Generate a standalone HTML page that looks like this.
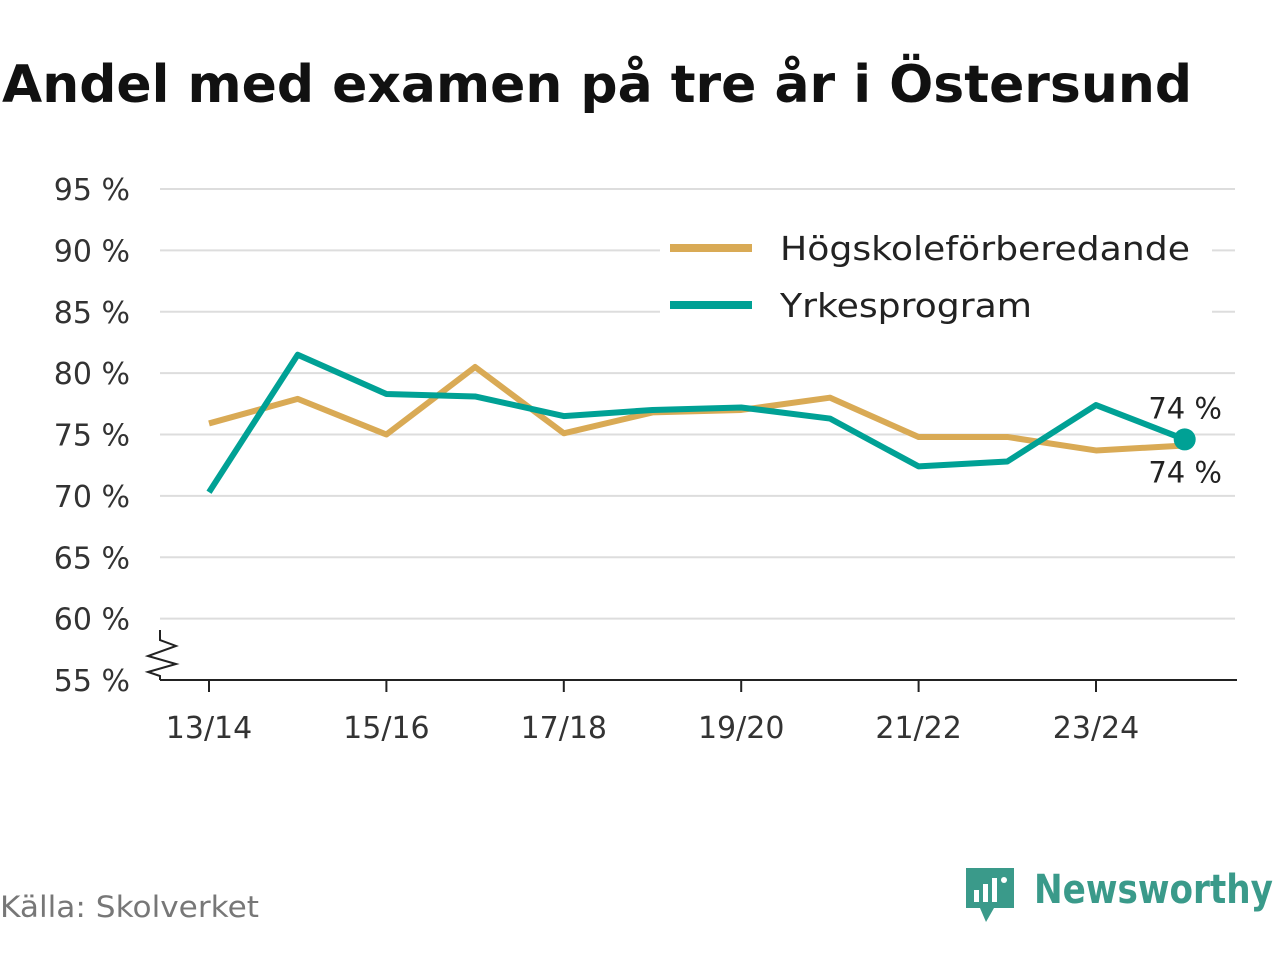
<!DOCTYPE html>
<html><head><meta charset="utf-8"><style>
body{margin:0;background:#fff;width:1280px;height:960px;overflow:hidden;font-family:"DejaVu Sans","Liberation Sans",sans-serif}
</style></head><body>
<svg id="c" width="1280" height="960" xmlns="http://www.w3.org/2000/svg">
<text x="2" y="102" font-size="52" font-weight="bold" fill="#111" textLength="1190" lengthAdjust="spacingAndGlyphs">Andel med examen på tre år i Östersund</text>
<g id="grid"></g><g id="lines"></g>
<text x="0" y="917" font-size="29" fill="#777" textLength="259" lengthAdjust="spacingAndGlyphs">Källa: Skolverket</text>
<g>
<path d="M966 868h48v40h-20l-8 14-6-14h-14z" fill="#3a9a8a"/>
<rect x="974" y="890" width="5" height="12" fill="#fff"/><rect x="983" y="884" width="5" height="18" fill="#fff"/><rect x="992" y="878" width="5" height="24" fill="#fff"/><circle cx="1004" cy="880" r="3" fill="#fff"/>
<text x="1034" y="903" font-size="40" font-weight="bold" fill="#3a9a8a" textLength="239" lengthAdjust="spacingAndGlyphs">Newsworthy</text></g>
</svg>
<script>
const categories=["13/14","14/15","15/16","16/17","17/18","18/19","19/20","20/21","21/22","22/23","23/24","24/25"];
const hogskole=[75.9,77.9,75.0,80.5,75.1,76.8,77.0,78.0,74.8,74.8,73.7,74.1];
const yrkes=[70.3,81.5,78.3,78.1,76.5,77.0,77.2,76.3,72.4,72.8,77.4,74.6];
const yTicks=[55,60,65,70,75,80,85,90,95];
const NS="http://www.w3.org/2000/svg";
const y=v=>680-(v-55)*12.275;
const x=i=>209+i*88.7;
function mk(t,a,p){const e=document.createElementNS(NS,t);for(const k in a)e.setAttribute(k,a[k]);p.appendChild(e);return e;}
const g=document.getElementById('grid'),L=document.getElementById('lines');
yTicks.forEach(v=>{
 if(v>55){const l=mk('line',{x1:160,x2:1235,y1:y(v),y2:y(v),stroke:'#ddd','stroke-width':2},g);
 
 }
 const t=mk('text',{x:130,y:y(v)+11,'font-size':30,'text-anchor':'end',fill:'#333'},g);t.textContent=v+' %';
 
 
});
const ax=mk('line',{x1:160,x2:1237,y1:680,y2:680,stroke:'#222','stroke-width':2},g);


const br=mk('path',{d:'M160 630 L160 640 L176 646 L148 656 L176 664 L148 672 L160 676 L160 680',fill:'none',stroke:'#222','stroke-width':2},g);


categories.forEach((c,i)=>{
 if(i%2==0){mk('line',{x1:x(i),x2:x(i),y1:680,y2:692,stroke:'#222','stroke-width':2},g);
 const t=mk('text',{x:x(i),y:738,'font-size':30,'text-anchor':'middle',fill:'#333'},g);t.textContent=c;
 
 }
});
const lg=mk('rect',{x:660,y:222,width:552,height:110,fill:'#fff'},g);


[['Högskoleförberedande','#d9aa55',248,410],['Yrkesprogram','#00a195',305,252]].forEach(([n,c,yy,w])=>{
 const l=mk('line',{x1:670,x2:752,y1:yy,y2:yy,stroke:c,'stroke-width':8},g);
 
 
 const t=mk('text',{x:780,y:yy+12,'font-size':33,fill:'#222',textLength:w,lengthAdjust:'spacingAndGlyphs'},g);t.textContent=n;
 
 
});
[[hogskole,'#d9aa55','hogskole-line'],[yrkes,'#00a195','yrkes-line']].forEach(([d,c,n])=>{
 const p=mk('polyline',{points:d.map((v,i)=>x(i)+','+y(v)).join(' '),fill:'none',stroke:c,'stroke-width':6,'stroke-linejoin':'round'},L);
 
 
});
const last=categories.length-1;
const dot=mk('circle',{cx:x(last),cy:y(yrkes[last]),r:11,fill:'#00a195'},L);


const t1=mk('text',{x:1222,y:y(yrkes[last])-21,'font-size':29,'text-anchor':'end',fill:'#222'},L);t1.textContent=Math.trunc(yrkes[last])+' %';


const t2=mk('text',{x:1222,y:y(hogskole[last])+37,'font-size':29,'text-anchor':'end',fill:'#222'},L);t2.textContent=Math.trunc(hogskole[last])+' %';


</script>
</body></html>
